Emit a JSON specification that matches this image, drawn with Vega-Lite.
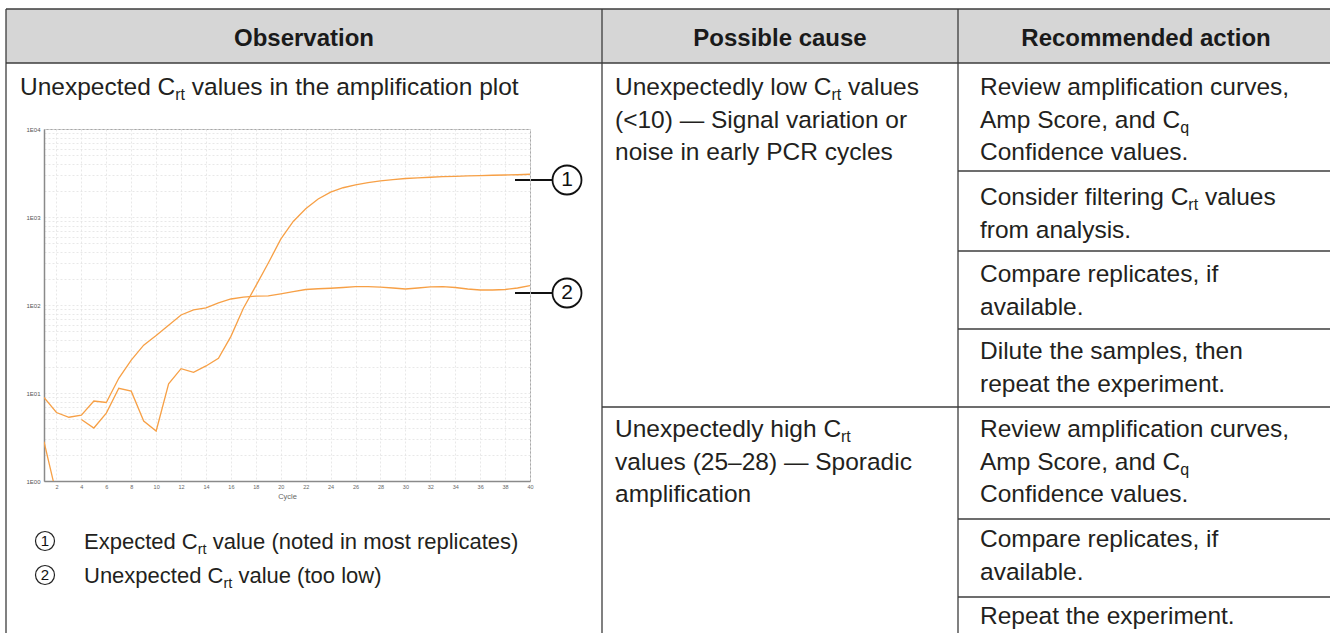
{
  "$schema": "https://vega.github.io/schema/vega-lite/v6.json",
  "background": "white",
  "padding": 0,
  "autosize": {"type": "pad"},
  "spacing": 0,
  "bounds": "flush",
  "config": {"view": {"stroke": null}, "font": "Liberation Sans"},
  "datasets": {
    "curves": [
      {"curve": "expected", "cycle": 1, "fluorescence": 2.8},
      {"curve": "expected", "cycle": 2, "fluorescence": 0.7},
      {"curve": "expected", "cycle": 3, "fluorescence": null},
      {"curve": "expected", "cycle": 4, "fluorescence": 5.0},
      {"curve": "expected", "cycle": 5, "fluorescence": 4.0},
      {"curve": "expected", "cycle": 6, "fluorescence": 5.9},
      {"curve": "expected", "cycle": 7, "fluorescence": 11.3},
      {"curve": "expected", "cycle": 8, "fluorescence": 10.5},
      {"curve": "expected", "cycle": 9, "fluorescence": 4.8},
      {"curve": "expected", "cycle": 10, "fluorescence": 3.7},
      {"curve": "expected", "cycle": 11, "fluorescence": 12.7},
      {"curve": "expected", "cycle": 12, "fluorescence": 18.9},
      {"curve": "expected", "cycle": 13, "fluorescence": 17.2},
      {"curve": "expected", "cycle": 14, "fluorescence": 20.3},
      {"curve": "expected", "cycle": 15, "fluorescence": 24.8},
      {"curve": "expected", "cycle": 16, "fluorescence": 44},
      {"curve": "expected", "cycle": 17, "fluorescence": 92},
      {"curve": "expected", "cycle": 18, "fluorescence": 165},
      {"curve": "expected", "cycle": 19, "fluorescence": 300},
      {"curve": "expected", "cycle": 20, "fluorescence": 560},
      {"curve": "expected", "cycle": 21, "fluorescence": 890},
      {"curve": "expected", "cycle": 22, "fluorescence": 1240},
      {"curve": "expected", "cycle": 23, "fluorescence": 1600},
      {"curve": "expected", "cycle": 24, "fluorescence": 1920},
      {"curve": "expected", "cycle": 25, "fluorescence": 2150},
      {"curve": "expected", "cycle": 26, "fluorescence": 2320},
      {"curve": "expected", "cycle": 27, "fluorescence": 2460},
      {"curve": "expected", "cycle": 28, "fluorescence": 2570},
      {"curve": "expected", "cycle": 29, "fluorescence": 2660},
      {"curve": "expected", "cycle": 30, "fluorescence": 2740},
      {"curve": "expected", "cycle": 31, "fluorescence": 2790},
      {"curve": "expected", "cycle": 32, "fluorescence": 2830},
      {"curve": "expected", "cycle": 33, "fluorescence": 2870},
      {"curve": "expected", "cycle": 34, "fluorescence": 2900},
      {"curve": "expected", "cycle": 35, "fluorescence": 2930},
      {"curve": "expected", "cycle": 36, "fluorescence": 2950},
      {"curve": "expected", "cycle": 37, "fluorescence": 2980},
      {"curve": "expected", "cycle": 38, "fluorescence": 3000},
      {"curve": "expected", "cycle": 39, "fluorescence": 3020},
      {"curve": "expected", "cycle": 40, "fluorescence": 3060},
      {"curve": "unexpected", "cycle": 1, "fluorescence": 8.9},
      {"curve": "unexpected", "cycle": 2, "fluorescence": 6.0},
      {"curve": "unexpected", "cycle": 3, "fluorescence": 5.3},
      {"curve": "unexpected", "cycle": 4, "fluorescence": 5.6},
      {"curve": "unexpected", "cycle": 5, "fluorescence": 8.1},
      {"curve": "unexpected", "cycle": 6, "fluorescence": 7.8},
      {"curve": "unexpected", "cycle": 7, "fluorescence": 14.7},
      {"curve": "unexpected", "cycle": 8, "fluorescence": 23.7},
      {"curve": "unexpected", "cycle": 9, "fluorescence": 35},
      {"curve": "unexpected", "cycle": 10, "fluorescence": 45},
      {"curve": "unexpected", "cycle": 11, "fluorescence": 59},
      {"curve": "unexpected", "cycle": 12, "fluorescence": 77},
      {"curve": "unexpected", "cycle": 13, "fluorescence": 88},
      {"curve": "unexpected", "cycle": 14, "fluorescence": 93},
      {"curve": "unexpected", "cycle": 15, "fluorescence": 106},
      {"curve": "unexpected", "cycle": 16, "fluorescence": 117},
      {"curve": "unexpected", "cycle": 17, "fluorescence": 123},
      {"curve": "unexpected", "cycle": 18, "fluorescence": 126},
      {"curve": "unexpected", "cycle": 19, "fluorescence": 127},
      {"curve": "unexpected", "cycle": 20, "fluorescence": 134},
      {"curve": "unexpected", "cycle": 21, "fluorescence": 142},
      {"curve": "unexpected", "cycle": 22, "fluorescence": 150},
      {"curve": "unexpected", "cycle": 23, "fluorescence": 153},
      {"curve": "unexpected", "cycle": 24, "fluorescence": 155},
      {"curve": "unexpected", "cycle": 25, "fluorescence": 158},
      {"curve": "unexpected", "cycle": 26, "fluorescence": 162},
      {"curve": "unexpected", "cycle": 27, "fluorescence": 162},
      {"curve": "unexpected", "cycle": 28, "fluorescence": 160},
      {"curve": "unexpected", "cycle": 29, "fluorescence": 156},
      {"curve": "unexpected", "cycle": 30, "fluorescence": 152},
      {"curve": "unexpected", "cycle": 31, "fluorescence": 156},
      {"curve": "unexpected", "cycle": 32, "fluorescence": 161},
      {"curve": "unexpected", "cycle": 33, "fluorescence": 162},
      {"curve": "unexpected", "cycle": 34, "fluorescence": 158},
      {"curve": "unexpected", "cycle": 35, "fluorescence": 152},
      {"curve": "unexpected", "cycle": 36, "fluorescence": 148},
      {"curve": "unexpected", "cycle": 37, "fluorescence": 148},
      {"curve": "unexpected", "cycle": 38, "fluorescence": 150},
      {"curve": "unexpected", "cycle": 39, "fluorescence": 156},
      {"curve": "unexpected", "cycle": 40, "fluorescence": 166}
    ],
    "rules": [
      {"kind": "border", "x": 6, "x2": 1330, "y": 9, "y2": 9},
      {"kind": "border", "x": 6, "x2": 1330, "y": 63, "y2": 63},
      {"kind": "border", "x": 6, "x2": 6, "y": 9, "y2": 633},
      {"kind": "border", "x": 602, "x2": 602, "y": 9, "y2": 633},
      {"kind": "border", "x": 958, "x2": 958, "y": 9, "y2": 633},
      {"kind": "border", "x": 958, "x2": 1330, "y": 171, "y2": 171},
      {"kind": "border", "x": 958, "x2": 1330, "y": 251, "y2": 251},
      {"kind": "border", "x": 958, "x2": 1330, "y": 329, "y2": 329},
      {"kind": "border", "x": 602, "x2": 1330, "y": 407, "y2": 407},
      {"kind": "border", "x": 958, "x2": 1330, "y": 519, "y2": 519},
      {"kind": "border", "x": 958, "x2": 1330, "y": 597, "y2": 597},
      {"kind": "callout", "x": 515, "x2": 553, "y": 180, "y2": 180},
      {"kind": "callout", "x": 515, "x2": 553, "y": 293, "y2": 293}
    ],
    "boxes": [
      {"kind": "page", "x": 0, "x2": 1330, "y": 0, "y2": 633},
      {"kind": "header", "x": 6, "x2": 1330, "y": 9, "y2": 63}
    ],
    "circles": [
      {"kind": "big", "x": 567, "y": 180},
      {"kind": "big", "x": 567, "y": 293},
      {"kind": "small", "x": 45, "y": 541},
      {"kind": "small", "x": 45, "y": 575}
    ],
    "texts": [
      {"kind": "header", "x": 304, "y": 45.5, "text": "Observation"},
      {"kind": "header", "x": 780, "y": 45.5, "text": "Possible cause"},
      {"kind": "header", "x": 1146, "y": 45.5, "text": "Recommended action"},
      {"kind": "body", "x": 20, "y": 95, "text": "Unexpected C"},
      {"kind": "sub", "x": 175.2, "y": 100, "text": "rt"},
      {"kind": "body", "x": 191.8, "y": 95, "text": "values in the amplification plot"},
      {"kind": "body", "x": 615, "y": 95, "text": "Unexpectedly low C"},
      {"kind": "sub", "x": 831.5, "y": 100, "text": "rt"},
      {"kind": "body", "x": 848.1, "y": 95, "text": "values"},
      {"kind": "body", "x": 615, "y": 127.5, "text": "(<10) — Signal variation or"},
      {"kind": "body", "x": 615, "y": 160, "text": "noise in early PCR cycles"},
      {"kind": "body", "x": 615, "y": 437, "text": "Unexpectedly high C"},
      {"kind": "sub", "x": 841, "y": 442, "text": "rt"},
      {"kind": "body", "x": 615, "y": 469.5, "text": "values (25–28) — Sporadic"},
      {"kind": "body", "x": 615, "y": 502, "text": "amplification"},
      {"kind": "body", "x": 980, "y": 95, "text": "Review amplification curves,"},
      {"kind": "body", "x": 980, "y": 127.5, "text": "Amp Score, and C"},
      {"kind": "sub", "x": 1180.2, "y": 132.5, "text": "q"},
      {"kind": "body", "x": 980, "y": 160, "text": "Confidence values."},
      {"kind": "body", "x": 980, "y": 205, "text": "Consider filtering C"},
      {"kind": "sub", "x": 1188.3, "y": 210, "text": "rt"},
      {"kind": "body", "x": 1204.9, "y": 205, "text": "values"},
      {"kind": "body", "x": 980, "y": 237.5, "text": "from analysis."},
      {"kind": "body", "x": 980, "y": 282, "text": "Compare replicates, if"},
      {"kind": "body", "x": 980, "y": 314.5, "text": "available."},
      {"kind": "body", "x": 980, "y": 359, "text": "Dilute the samples, then"},
      {"kind": "body", "x": 980, "y": 391.5, "text": "repeat the experiment."},
      {"kind": "body", "x": 980, "y": 437, "text": "Review amplification curves,"},
      {"kind": "body", "x": 980, "y": 469.5, "text": "Amp Score, and C"},
      {"kind": "sub", "x": 1180.2, "y": 474.5, "text": "q"},
      {"kind": "body", "x": 980, "y": 502, "text": "Confidence values."},
      {"kind": "body", "x": 980, "y": 547, "text": "Compare replicates, if"},
      {"kind": "body", "x": 980, "y": 579.5, "text": "available."},
      {"kind": "body", "x": 980, "y": 624, "text": "Repeat the experiment."},
      {"kind": "legend", "x": 84, "y": 549, "text": "Expected C"},
      {"kind": "legendsub", "x": 197.7, "y": 553.5, "text": "rt"},
      {"kind": "legend", "x": 212.7, "y": 549, "text": "value (noted in most replicates)"},
      {"kind": "legend", "x": 84, "y": 583, "text": "Unexpected C"},
      {"kind": "legendsub", "x": 223.4, "y": 587.5, "text": "rt"},
      {"kind": "legend", "x": 238.4, "y": 583, "text": "value (too low)"},
      {"kind": "callout", "x": 567, "y": 180, "text": "1"},
      {"kind": "callout", "x": 567, "y": 293, "text": "2"},
      {"kind": "legendnum", "x": 45, "y": 541, "text": "1"},
      {"kind": "legendnum", "x": 45, "y": 575, "text": "2"}
    ]
  },
  "hconcat": [
    {
      "width": 38,
      "height": 352,
      "view": {"stroke": null},
      "encoding": {
        "x": {"field": "x", "type": "quantitative", "axis": null, "scale": {"domain": [6, 44], "nice": false, "zero": false}},
        "y": {"field": "y", "type": "quantitative", "axis": null, "scale": {"domain": [129, 481], "nice": false, "zero": false, "reverse": true}}
      },
      "layer": [
        {
          "data": {"name": "boxes"},
          "transform": [{"filter": "datum.kind === 'page'"}],
          "mark": {"type": "rect", "fill": "white", "clip": false},
          "encoding": {"x2": {"field": "x2"}, "y2": {"field": "y2"}}
        },
        {
          "data": {"name": "boxes"},
          "transform": [{"filter": "datum.kind === 'header'"}],
          "mark": {"type": "rect", "fill": "#d6d6d6", "clip": false},
          "encoding": {"x2": {"field": "x2"}, "y2": {"field": "y2"}}
        },
        {
          "data": {"name": "rules"},
          "transform": [{"filter": "datum.kind === 'border'"}],
          "mark": {"type": "rule", "color": "#3c3c3c", "strokeWidth": 1.3},
          "encoding": {"x2": {"field": "x2"}, "y2": {"field": "y2"}}
        },
        {
          "data": {"name": "rules"},
          "transform": [{"filter": "datum.kind === 'callout'"}],
          "mark": {"type": "rule", "color": "#111111", "strokeWidth": 2},
          "encoding": {"x2": {"field": "x2"}, "y2": {"field": "y2"}}
        },
        {
          "data": {"name": "circles"},
          "transform": [{"filter": "datum.kind === 'big'"}],
          "mark": {"type": "point", "shape": "circle", "size": 841, "filled": false, "stroke": "#111111", "strokeWidth": 1.8, "fill": "white", "fillOpacity": 1, "opacity": 1}
        },
        {
          "data": {"name": "circles"},
          "transform": [{"filter": "datum.kind === 'small'"}],
          "mark": {"type": "point", "shape": "circle", "size": 361, "filled": false, "stroke": "#222222", "strokeWidth": 1.2, "opacity": 1}
        },
        {
          "data": {"name": "texts"},
          "transform": [{"filter": "datum.kind === 'header'"}],
          "mark": {"type": "text", "font": "Liberation Sans", "fontSize": 24, "fontWeight": "bold", "align": "center", "baseline": "alphabetic", "color": "#1a1a1a"},
          "encoding": {"text": {"field": "text"}}
        },
        {
          "data": {"name": "texts"},
          "transform": [{"filter": "datum.kind === 'body'"}],
          "mark": {"type": "text", "font": "Liberation Sans", "fontSize": 24.5, "align": "left", "baseline": "alphabetic", "color": "#231f20"},
          "encoding": {"text": {"field": "text"}}
        },
        {
          "data": {"name": "texts"},
          "transform": [{"filter": "datum.kind === 'sub'"}],
          "mark": {"type": "text", "font": "Liberation Sans", "fontSize": 16, "align": "left", "baseline": "alphabetic", "color": "#231f20"},
          "encoding": {"text": {"field": "text"}}
        },
        {
          "data": {"name": "texts"},
          "transform": [{"filter": "datum.kind === 'legend'"}],
          "mark": {"type": "text", "font": "Liberation Sans", "fontSize": 22, "align": "left", "baseline": "alphabetic", "color": "#231f20"},
          "encoding": {"text": {"field": "text"}}
        },
        {
          "data": {"name": "texts"},
          "transform": [{"filter": "datum.kind === 'legendsub'"}],
          "mark": {"type": "text", "font": "Liberation Sans", "fontSize": 14.5, "align": "left", "baseline": "alphabetic", "color": "#231f20"},
          "encoding": {"text": {"field": "text"}}
        },
        {
          "data": {"name": "texts"},
          "transform": [{"filter": "datum.kind === 'callout'"}],
          "mark": {"type": "text", "font": "Liberation Sans", "fontSize": 21, "align": "center", "baseline": "middle", "color": "#111111"},
          "encoding": {"text": {"field": "text"}}
        },
        {
          "data": {"name": "texts"},
          "transform": [{"filter": "datum.kind === 'legendnum'"}],
          "mark": {"type": "text", "font": "Liberation Sans", "fontSize": 15, "align": "center", "baseline": "middle", "color": "#111111"},
          "encoding": {"text": {"field": "text"}}
        }
      ]
    },
    {
      "width": 486,
      "height": 352,
      "view": {"stroke": "#a8a8a8", "strokeWidth": 1},
      "data": {"name": "curves"},
      "mark": {"type": "line", "color": "#f7a046", "strokeWidth": 1.3, "clip": true, "invalid": "break-paths-show-domains"},
      "encoding": {
        "x": {
          "field": "cycle", "type": "quantitative",
          "scale": {"domain": [1, 40], "nice": false, "zero": false},
          "axis": {
            "values": [2, 4, 6, 8, 10, 12, 14, 16, 18, 20, 22, 24, 26, 28, 30, 32, 34, 36, 38, 40],
            "title": "Cycle", "titleFont": "Liberation Sans", "titleFontSize": 7.5, "titleFontWeight": "normal", "titleColor": "#666666", "titlePadding": 3,
            "labelFont": "Liberation Sans", "labelFontSize": 5.5, "labelColor": "#666666", "labelPadding": 3, "labelFlush": false, "labelOverlap": false,
            "ticks": false, "domainColor": "#8a8a8a", "domainWidth": 1.5,
            "grid": true, "gridColor": "#e2e2e2", "gridDash": [2, 2], "gridWidth": 0.8
          }
        },
        "y": {
          "field": "fluorescence", "type": "quantitative",
          "scale": {"type": "log", "domain": [1, 10000], "nice": false},
          "axis": {
            "values": [1, 2, 3, 4, 5, 6, 7, 8, 9, 10, 20, 30, 40, 50, 60, 70, 80, 90, 100, 200, 300, 400, 500, 600, 700, 800, 900, 1000, 2000, 3000, 4000, 5000, 6000, 7000, 8000, 9000, 10000],
            "labelExpr": "indexof([1, 10, 100, 1000, 10000], datum.value) >= 0 ? '1E0' + format(log(datum.value) / LN10, '.0f') : ''",
            "title": null,
            "labelFont": "Liberation Sans", "labelFontSize": 6, "labelColor": "#555555", "labelPadding": 4, "labelOverlap": false, "labelFlush": false,
            "ticks": false, "domainColor": "#8a8a8a", "domainWidth": 1.5,
            "grid": true, "gridColor": "#e2e2e2", "gridDash": [2, 2], "gridWidth": 0.8
          }
        },
        "detail": {"field": "curve"}
      }
    }
  ]
}
